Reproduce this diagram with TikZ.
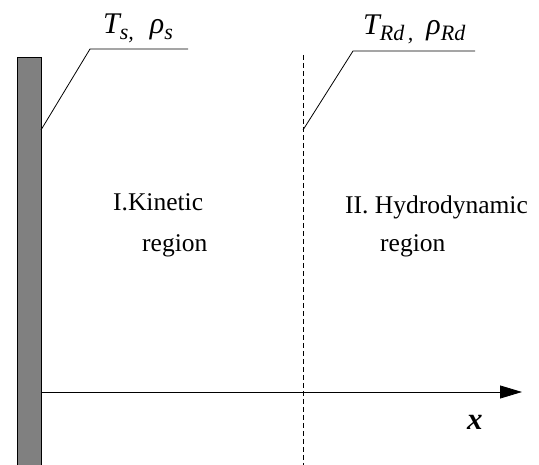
\documentclass[tikz,border=0pt]{standalone}
\usepackage{fontspec}
\setmainfont{Liberation Serif}
\usetikzlibrary{arrows.meta}
\newcommand\lowsub[1]{\raisebox{-0.2em}{\fontsize{22}{24}\selectfont #1}}
\tikzset{
  wallbox/.style={draw=black, line width=0.9pt, fill=black!50, minimum width=24pt, minimum height=412pt, inner sep=0pt, anchor=north west},
  leader/.style={draw=black, line width=0.8pt},
  bndline/.style={draw=black, line width=0.7pt, dash pattern=on 5pt off 3pt},
  axisline/.style={draw=black, line width=0.8pt, -{Triangle[length=22pt,width=13pt]}},
  regiontext/.style={font=\fontsize{25.5}{30}\selectfont, inner sep=0pt, anchor=base west},
  labeltext/.style={font=\fontsize{30}{34}\selectfont\itshape, inner sep=0pt, anchor=base west},
}
\begin{document}
\begin{tikzpicture}[x=1pt,y=-1pt]
\useasboundingbox (0,0) rectangle (539,465);
% wall
\node[wallbox] (wall) at (17,57) {};
% boundary line
\coordinate (btop) at (303,55);
\coordinate (bbot) at (303,470);
\draw[bndline] (btop) -- (bbot);
% leaders
\coordinate (ls0) at (41,130);
\coordinate (ls1) at (90,49);
\coordinate (ls2) at (188,49);
\draw[leader] (ls0) -- (ls1) -- (ls2);
\coordinate (lr0) at (303,130);
\coordinate (lr1) at (353,51);
\coordinate (lr2) at (475,51);
\draw[leader] (lr0) -- (lr1) -- (lr2);
% labels
\node[labeltext] (ts) at (103,34) {T\lowsub{s,}\hspace{16pt}ρ\lowsub{s}};
\node[labeltext] (trd) at (363,35) {T\lowsub{Rd\,,}\hspace{13pt}ρ\lowsub{Rd}};
% axis
\coordinate (axend) at (522,392);
\draw[axisline] (wall.east |- axend) -- (axend);
\node[font=\fontsize{31}{36}\selectfont\bfseries\itshape, inner sep=0pt, anchor=base west] (xlab) at (467,430) {x};
% region texts
\node[regiontext] (k1) at (113,211) {I.Kinetic};
\node[regiontext] (k2) at (142,252) {region};
\node[regiontext] (h1) at (345,214) {II. Hydrodynamic};
\node[regiontext] (h2) at (380,252) {region};
\end{tikzpicture}
\end{document}
